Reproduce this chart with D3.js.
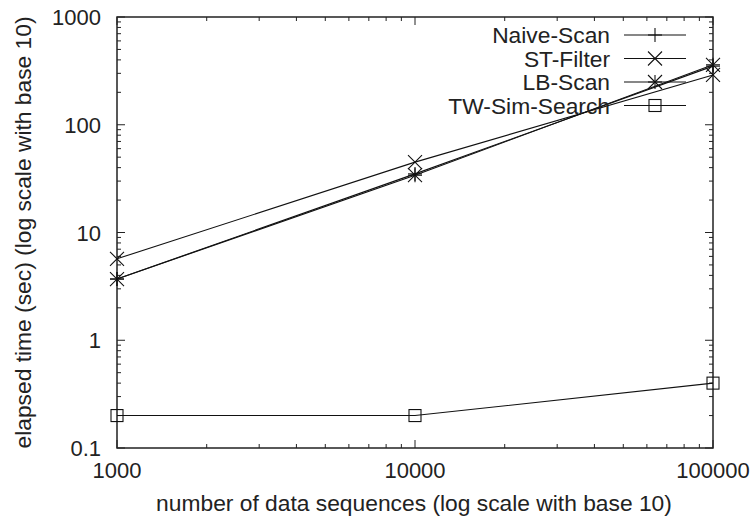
<!DOCTYPE html>
<html>
<head>
<meta charset="utf-8">
<script src="https://cdn.jsdelivr.net/npm/d3@7"></script>
<style>
  body { margin: 0; background: #fff; }
  text { font-family: "Liberation Sans", Arial, sans-serif; fill: #222; }
</style>
</head>
<body>
<svg id="chart" width="754" height="520"></svg>
<script>
// data
var sizes = [1000, 10000, 100000];
var naiveScan = [3.7, 35, 350];
var stFilter = [5.7, 45, 290];
var lbScan = [3.7, 34, 360];
var twSimSearch = [0.2, 0.2, 0.4];
var seriesNames = ["Naive-Scan", "ST-Filter", "LB-Scan", "TW-Sim-Search"];
var markerTypes = ["plus", "cross", "star", "square"];
var xTicks = [1000, 10000, 100000];
var yTicks = [0.1, 1, 10, 100, 1000];

var allSeries = [naiveScan, stFilter, lbScan, twSimSearch].map(function(vals, i) {
  return { key: seriesNames[i], marker: markerTypes[i],
           values: vals.map(function(v, j) { return { x: sizes[j], y: v }; }) };
});

var pLeft = 117, pRight = 713, pTop = 17, pBottom = 448;
var fs = 22, fsLab = 22.8;
var svg = d3.select("#chart");

var x = d3.scaleLog().domain([1000, 100000]).range([pLeft, pRight]);
var y = d3.scaleLog().domain([0.1, 1000]).range([pBottom, pTop]);

// minor ticks
var minorX = [], minorY = [];
[1000, 10000].forEach(function(d) { for (var k = 2; k <= 9; k++) minorX.push(d * k); });
[0.1, 1, 10, 100].forEach(function(d) { for (var k = 2; k <= 9; k++) minorY.push(d * k); });

var ticks = svg.append("g").attr("stroke", "#222").attr("stroke-width", 1);
function tickY(v, len) {
  ticks.append("line").attr("x1", pLeft).attr("x2", pLeft + len).attr("y1", y(v)).attr("y2", y(v));
  ticks.append("line").attr("x1", pRight).attr("x2", pRight - len).attr("y1", y(v)).attr("y2", y(v));
}
function tickX(v, len) {
  ticks.append("line").attr("x1", x(v)).attr("x2", x(v)).attr("y1", pBottom).attr("y2", pBottom - len);
  ticks.append("line").attr("x1", x(v)).attr("x2", x(v)).attr("y1", pTop).attr("y2", pTop + len);
}
yTicks.forEach(function(v) { tickY(v, 8); });
minorY.forEach(function(v) { tickY(v, 4); });
xTicks.forEach(function(v) { tickX(v, 8); });
minorX.forEach(function(v) { tickX(v, 4); });

svg.append("rect")
  .attr("x", pLeft).attr("y", pTop)
  .attr("width", pRight - pLeft).attr("height", pBottom - pTop)
  .attr("fill", "none").attr("stroke", "#222").attr("stroke-width", 1.5);

// tick labels
svg.selectAll(".ylab").data(yTicks).enter().append("text")
  .attr("x", 101).attr("y", function(d) { return y(d) + 8; })
  .attr("text-anchor", "end").attr("font-size", fs)
  .text(function(d) { return d; });
svg.selectAll(".xlab").data(xTicks).enter().append("text")
  .attr("x", function(d) { return x(d); }).attr("y", 478)
  .attr("text-anchor", "middle").attr("font-size", fs)
  .text(function(d) { return d; });

svg.append("text")
  .attr("x", 414).attr("y", 511)
  .attr("text-anchor", "middle").attr("font-size", fsLab)
  .text("number of data sequences (log scale with base 10)");
svg.append("text")
  .attr("transform", "translate(31," + ((pTop + pBottom) / 2) + ") rotate(-90)")
  .attr("text-anchor", "middle").attr("font-size", fsLab)
  .text("elapsed time (sec) (log scale with base 10)");

function drawMarker(g, type, cx, cy) {
  var s = 7;
  if (type === "plus" || type === "star") {
    g.append("line").attr("x1", cx - s).attr("x2", cx + s).attr("y1", cy).attr("y2", cy);
    g.append("line").attr("x1", cx).attr("x2", cx).attr("y1", cy - s).attr("y2", cy + s);
  }
  if (type === "cross" || type === "star") {
    g.append("line").attr("x1", cx - s).attr("x2", cx + s).attr("y1", cy - s).attr("y2", cy + s);
    g.append("line").attr("x1", cx - s).attr("x2", cx + s).attr("y1", cy + s).attr("y2", cy - s);
  }
  if (type === "square") {
    g.append("rect").attr("x", cx - 6).attr("y", cy - 6).attr("width", 12).attr("height", 12)
      .attr("fill", "none");
  }
}

var line = d3.line().x(function(d) { return x(d.x); }).y(function(d) { return y(d.y); });
var plot = svg.append("g").attr("stroke", "#111").attr("stroke-width", 1.1).attr("fill", "none");

allSeries.forEach(function(s, i) {
  plot.append("path").attr("d", line(s.values));
  s.values.forEach(function(d) { drawMarker(plot, s.marker, x(d.x), y(d.y)); });
  // legend
  var ly = 35 + i * 23.5;
  svg.append("text").attr("x", 610).attr("y", ly + 8)
    .attr("text-anchor", "end").attr("font-size", fsLab).text(s.key);
  plot.append("line").attr("x1", 624).attr("x2", 686).attr("y1", ly).attr("y2", ly);
  drawMarker(plot, s.marker, 655, ly);
});
</script>
</body>
</html>
